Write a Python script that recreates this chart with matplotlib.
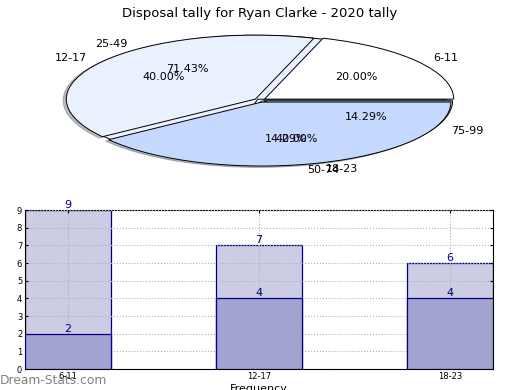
import matplotlib.pyplot as plt

# pie data (two overlaid pies)
groups_a = ["6-11", "12-17", "18-23"]
share_a = [1, 2, 2]
groups_b = ["25-49", "50-74", "75-99"]
share_b = [5, 1, 1]

# bar data
bar_labels = ["6-11", "12-17", "18-23"]
totals = [9, 7, 6]
inner = [2, 4, 4]

fig = plt.figure(figsize=(5.2, 3.9), dpi=100)

# --- pie part ---
ax = fig.add_axes([0.129, 0.574, 0.742, 0.338])
cols = ["#ffffff", "#eaf1fe", "#c5d9fe"]
ax.pie(share_b, labels=groups_b, autopct="%.2f%%", colors=["#eaf1fe", "#c5d9fe", "#c5d9fe"],
       explode=[0.02, 0.02, 0.02], wedgeprops=dict(edgecolor="black", linewidth=0.7),
       textprops=dict(fontsize=8), startangle=0)
ax.pie(share_a, labels=groups_a, autopct="%.2f%%", colors=cols,
       shadow=dict(ox=-0.012, oy=-0.015, shade=0.5),
       explode=[0.03, 0.03, 0.03], wedgeprops=dict(edgecolor="black", linewidth=0.7),
       textprops=dict(fontsize=8), startangle=0)
ax.set_aspect("auto")
ax.set_xlim(-1.02, 1.02)
ax.set_ylim(-1.03, 1.03)
ax.axis("off")
fig.text(0.5, 0.965, "Disposal tally for Ryan Clarke - 2020 tally", ha="center", va="center",
         fontsize=9.5)

# --- bar part ---
bx = fig.add_axes([0.048, 0.0538, 0.9, 0.4077])
x = range(len(bar_labels))
w = 0.45
bx.bar(x, totals, width=w, color="#ccccE4", edgecolor="#000080", linewidth=0.9, zorder=2)
bx.bar(x, inner, width=w, color="#a3a3d1", edgecolor="#000080", linewidth=0.9, zorder=3)
for i in x:
    bx.text(i, totals[i], str(totals[i]), ha="center", va="bottom", fontsize=8, color="#000080", zorder=5)
    bx.text(i, inner[i], str(inner[i]), ha="center", va="bottom", fontsize=8, color="#000080", zorder=5)
bx.set_xlim(-w / 2, 2 + w / 2)
bx.set_ylim(0, 9)
bx.set_yticks(range(10))
bx.set_xticks(list(x))
bx.set_xticklabels(bar_labels)
bx.tick_params(labelsize=6, direction="in", length=2, top=True, right=True, pad=2)
bx.grid(True, linestyle=":", color="#b0b0b0", linewidth=0.8, zorder=4)
bx.set_axisbelow(False)
bx.set_xlabel("Frequency", fontsize=8, labelpad=2)

fig.text(0.0, 0.025, "Dream-Stats.com", fontsize=8.8, color="#808080",
         ha="left", va="center")

fig.savefig("out.png", dpi=100)
